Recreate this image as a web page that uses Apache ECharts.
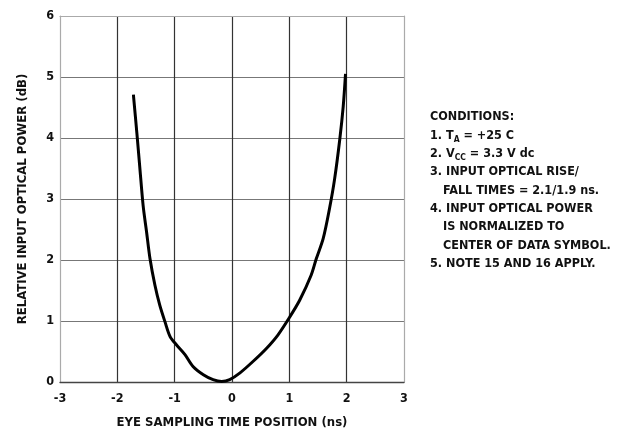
<!DOCTYPE html>
<html><head><meta charset="utf-8">
<script src="https://cdn.jsdelivr.net/npm/echarts@6/dist/echarts.min.js"></script>
<style>html,body{margin:0;padding:0;background:#fff}#c{width:622px;height:434px}</style>
</head><body><div id="c"></div>
<script>
var FONT = "'Liberation Sans Narrow','DejaVu Sans Condensed','Roboto Condensed',sans-serif";
var timeNs = [-1.72,-1.66,-1.61,-1.55,-1.49,-1.43,-1.345,-1.26,-1.17,-1.08,-0.97,-0.82,-0.68,-0.50,-0.33,-0.18,-0.04,0.14,0.37,0.60,0.80,1.01,1.18,1.38,1.47,1.59,1.70,1.79,1.88,1.94,1.98];
var powerDb = [4.71,4.09,3.54,2.89,2.46,2.02,1.59,1.26,0.99,0.745,0.61,0.45,0.255,0.12,0.04,0.01,0.04,0.15,0.34,0.55,0.77,1.07,1.34,1.75,2.02,2.35,2.84,3.33,3.98,4.52,5.05];
var xTicks = [-3,-2,-1,0,1,2,3];
var yTicks = [0,1,2,3,4,5,6];
var conditions = [
  "CONDITIONS:",
  "1. T{sub|A} = +25 C",
  "2. V{sub|CC} = 3.3 V dc",
  "3. INPUT OPTICAL RISE/",
  "{ind| }FALL TIMES = 2.1/1.9 ns.",
  "4. INPUT OPTICAL POWER",
  "{ind| }IS NORMALIZED TO",
  "{ind| }CENTER OF DATA SYMBOL.",
  "5. NOTE 15 AND 16 APPLY."
];
var pts = timeNs.map(function(x,i){return [x, powerDb[i]];});
var xMin = xTicks[0], xMax = xTicks[xTicks.length-1];
var yMin = yTicks[0], yMax = yTicks[yTicks.length-1];
var chart = echarts.init(document.getElementById('c'), null, {renderer:'canvas'});
chart.setOption({
  animation:false,
  backgroundColor:'#fff',
  grid:{left:60,right:218,top:16,bottom:50,containLabel:false},
  xAxis:[{type:'value',min:xMin,max:xMax,interval:1,
    name:'EYE SAMPLING TIME POSITION (ns)',nameLocation:'middle',nameGap:34,
    nameTextStyle:{fontFamily:FONT,fontWeight:'bold',fontSize:13,color:'#111'},
    axisLine:{show:true,onZero:false,lineStyle:{color:'#444',width:1.3}},
    axisTick:{show:false},
    axisLabel:{fontFamily:FONT,fontWeight:'bold',fontSize:12.5,color:'#111',margin:10},
    splitLine:{show:true,showMinLine:false,showMaxLine:false,lineStyle:{color:'#333',width:1.2}}},
   {type:'value',position:'top',min:xMin,max:xMax,interval:1,
    axisLine:{show:true,onZero:false,lineStyle:{color:'#aaa',width:1.2}},
    axisTick:{show:false},axisLabel:{show:false},splitLine:{show:false}}],
  yAxis:[{type:'value',min:yMin,max:yMax,interval:1,
    name:'RELATIVE INPUT OPTICAL POWER (dB)',nameLocation:'middle',nameGap:31,
    nameTextStyle:{fontFamily:FONT,fontWeight:'bold',fontSize:13,color:'#111'},
    axisLine:{show:true,onZero:false,lineStyle:{color:'#aaa',width:1.2}},
    axisTick:{show:false},
    axisLabel:{fontFamily:FONT,fontWeight:'bold',fontSize:12.5,color:'#111',margin:6},
    splitLine:{show:true,showMinLine:false,showMaxLine:false,lineStyle:{color:'#777',width:1.2}}},
   {type:'value',position:'right',min:yMin,max:yMax,interval:1,
    axisLine:{show:true,onZero:false,lineStyle:{color:'#aaa',width:1.2}},
    axisTick:{show:false},axisLabel:{show:false},splitLine:{show:false}}],
  series:[{type:'line',data:pts,smooth:0.3,showSymbol:false,xAxisIndex:0,yAxisIndex:0,
    lineStyle:{color:'#000',width:3}}],
  graphic:[{type:'text',left:430,top:108,
    style:{text:conditions.join('\n'),fontFamily:FONT,fontWeight:'bold',fontSize:12.5,lineHeight:18.3,fill:'#111',
      rich:{sub:{fontFamily:FONT,fontWeight:'bold',fontSize:8.5,fill:'#111',lineHeight:18.3,padding:[8,0,0,0]},
            ind:{width:13,fontSize:12.5,lineHeight:18.3}}}}]
});
</script></body></html>
